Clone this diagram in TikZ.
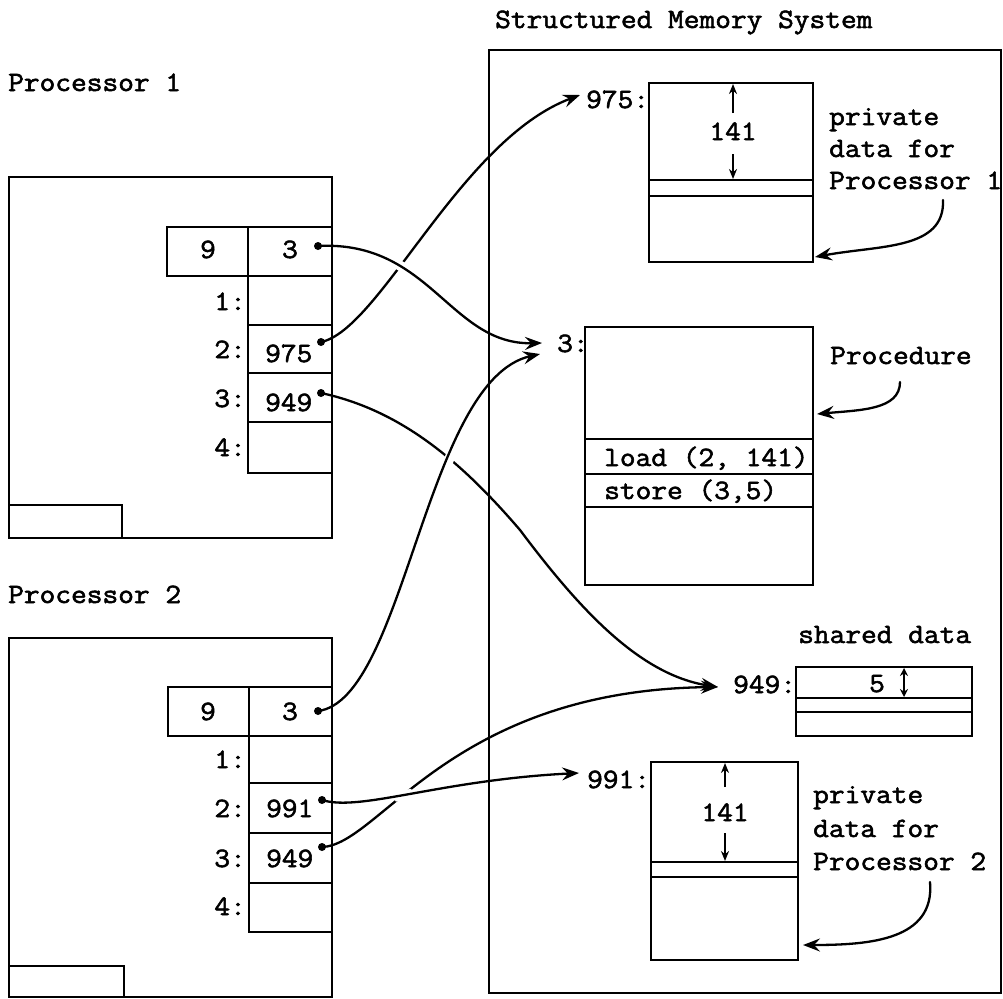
\documentclass[tikz,border=0pt]{standalone}
\usepackage{fontspec}
\newfontfamily\tw{Latin Modern Mono}[FakeStretch=1.09,FakeBold=2]
\usetikzlibrary{arrows.meta,intersections}
\begin{document}
\begin{tikzpicture}[x=1pt,y=-1pt,
  box/.style={line width=2.8pt},
  wire/.style={line width=2.3pt, line cap=round},
  tip/.style={-{Stealth[length=17pt,width=13pt,inset=6pt]}},
  dimtip/.style={line width=2pt,-{Stealth[length=10pt,width=8pt]}},
  halo/.style={draw=white, line width=10pt},
  txt/.style={font=\tw\fontsize{28}{33}\selectfont, inner sep=0pt}]
\useasboundingbox (0,0) rectangle (1003,998);

% ---------- headings ----------
\node[txt, anchor=base west] (title) at (495,28) {Structured Memory System};
\node[txt, anchor=base west] (proc1) at (8,91) {Processor 1};
\node[txt, anchor=base west] (proc2) at (8,603) {Processor 2};

% ---------- Processor 1 ----------
\draw[box] (9,177) rectangle (332,538);
\draw[box] (9,505) rectangle (122,538);
\draw[box] (167,227) rectangle (332,276);
\draw[box] (248,227) -- (248,276);
\draw[box] (248,276) rectangle (332,325);
\draw[box] (248,325) rectangle (332,373);
\draw[box] (248,373) rectangle (332,422);
\draw[box] (248,422) rectangle (332,473);
\node[txt, anchor=base] (p1seg) at (208,258) {9};
\node[txt, anchor=base] (p1ent) at (290,258) {3};
\node[txt, anchor=base east] (p1i1) at (246,310) {1:};
\node[txt, anchor=base east] (p1i2) at (246,358) {2:};
\node[txt, anchor=base east] (p1i3) at (246,407) {3:};
\node[txt, anchor=base east] (p1i4) at (246,456) {4:};
\node[txt, anchor=base west] (p1v2) at (265,362) {975};
\node[txt, anchor=base west] (p1v3) at (265,411) {949};
\coordinate (d1c) at (318,246);
\coordinate (d1b) at (321,342);
\coordinate (d1s) at (321,393);

% ---------- Processor 2 ----------
\draw[box] (9,638) rectangle (332,997);
\draw[box] (9,966) rectangle (124,997);
\draw[box] (168,687) rectangle (332,736);
\draw[box] (249,687) -- (249,736);
\draw[box] (249,736) rectangle (332,783);
\draw[box] (249,783) rectangle (332,833);
\draw[box] (249,833) rectangle (332,883);
\draw[box] (249,883) rectangle (332,932);
\node[txt, anchor=base] (p2seg) at (208,720) {9};
\node[txt, anchor=base] (p2ent) at (290,720) {3};
\node[txt, anchor=base east] (p2i1) at (246,768) {1:};
\node[txt, anchor=base east] (p2i2) at (246,817) {2:};
\node[txt, anchor=base east] (p2i3) at (246,867) {3:};
\node[txt, anchor=base east] (p2i4) at (246,915) {4:};
\node[txt, anchor=base west] (p2v2) at (266,817) {991};
\node[txt, anchor=base west] (p2v3) at (266,867) {949};
\coordinate (d2c) at (318,711);
\coordinate (d2p) at (322,800);
\coordinate (d2s) at (322,847);

% ---------- structured memory ----------
\draw[box] (489,50) rectangle (1001,993);

% private data for processor 1
\draw[box] (649,83) rectangle (813,262);
\draw[box] (649,180) -- (813,180);
\draw[box] (649,196) -- (813,196);
\node[txt, anchor=base west] (a975) at (586,108) {975:};
\node[txt, anchor=base] (len1) at (733,140) {141};
\draw[dimtip] (733,113) -- (733,84);
\draw[dimtip] (733,154) -- (733,179);
\node[txt, anchor=base west] (pv1a) at (829,125) {private};
\node[txt, anchor=base west] (pv1b) at (829,157) {data for};
\node[txt, anchor=base west] (pv1c) at (829,189) {Processor 1};
\coordinate (pv1s) at (943,200);
\coordinate (pv1t) at (815,257);

% procedure
\draw[box] (585,327) rectangle (813,585);
\draw[box] (585,439) -- (813,439);
\draw[box] (585,474) -- (813,474);
\draw[box] (585,507) -- (813,507);
\node[txt, anchor=base west] (a3) at (557,352) {3:};
\node[txt, anchor=base west] (ld) at (604,466) {load (2, 141)};
\node[txt, anchor=base west] (st) at (604,499) {store (3,5)};
\node[txt, anchor=base west] (proc) at (830,364) {Procedure};
\coordinate (procs) at (900,382);
\coordinate (proct) at (817,414);

% shared data
\node[txt, anchor=base west] (shd) at (798,643) {shared data};
\draw[box] (796,667) rectangle (972,736);
\draw[box] (796,698) -- (972,698);
\draw[box] (796,712) -- (972,712);
\node[txt, anchor=base west] (a949) at (733,693) {949:};
\node[txt, anchor=base] (five) at (877,692) {5};
\draw[line width=2pt,{Stealth[length=8pt,width=8pt]}-{Stealth[length=8pt,width=8pt]}] (904,668) -- (904,697);

% private data for processor 2
\draw[box] (651,762) rectangle (798,960);
\draw[box] (651,862) -- (798,862);
\draw[box] (651,877) -- (798,877);
\node[txt, anchor=base west] (a991) at (587,788) {991:};
\node[txt, anchor=base] (len2) at (725,821) {141};
\draw[dimtip] (725,787) -- (725,763);
\draw[dimtip] (725,833) -- (725,861);
\node[txt, anchor=base west] (pv2a) at (813,803) {private};
\node[txt, anchor=base west] (pv2b) at (813,837) {data for};
\node[txt, anchor=base west] (pv2c) at (813,870) {Processor 2};
\coordinate (pv2s) at (930,882);
\coordinate (pv2t) at (803,945);

% pointer targets
\coordinate (t975) at (580,95);
\coordinate (t3a) at (542,343);
\coordinate (t3b) at (540,354);
\coordinate (t949) at (718,687);
\coordinate (t991) at (579,773);

% ---------- pointer paths ----------
\def\pathA{(d1c) .. controls (430,240) and (450,345) .. (t3a)}
\def\pathB{(d1b) .. controls (380,330) and (460,140) .. (t975)}
\def\pathC{(d1s) .. controls (400,410) and (460,460) .. (520,530) .. controls (580,610) and (640,675) .. (t949)}
\def\pathD{(d2c) .. controls (405,700) and (425,380) .. (t3b)}
\def\pathE{(d2p) .. controls (360,812) and (440,780) .. (t991)}
\def\pathF{(d2s) .. controls (380,845) and (450,690) .. (t949)}
\path[name path=pA] \pathA;
\path[name path=pB] \pathB;
\path[name path=pC] \pathC;
\path[name path=pD] \pathD;
\path[name path=pE] \pathE;
\path[name path=pF] \pathF;

% lower strands
\draw[wire,tip] \pathB;
\draw[wire,tip] \pathC;
\draw[wire,tip] \pathF;

% gaps where the upper strands pass over
\begin{scope}
  \path[name intersections={of=pA and pB, by=xAB}];
  \clip (xAB) circle (10pt);
  \path[halo] \pathA;
\end{scope}
\begin{scope}
  \path[name intersections={of=pD and pC, by=xDC}];
  \clip (xDC) circle (10pt);
  \path[halo] \pathD;
\end{scope}
\begin{scope}
  \path[name intersections={of=pE and pF, by=xEF}];
  \clip (xEF) circle (10pt);
  \path[halo] \pathE;
\end{scope}

% upper strands
\draw[wire,tip] \pathA;
\draw[wire,tip] \pathD;
\draw[wire,tip] \pathE;

% pointer origins
\foreach \d in {d1c,d1b,d1s,d2c,d2p,d2s} \fill (\d) circle (4pt);

% annotation arrows
\draw[wire,tip] (pv1s) .. controls (945,250) and (880,245) .. (pv1t);
\draw[wire,tip] (procs) .. controls (900,410) and (860,410) .. (proct);
\draw[wire,tip] (pv2s) .. controls (935,940) and (870,945) .. (pv2t);
\end{tikzpicture}
\end{document}
